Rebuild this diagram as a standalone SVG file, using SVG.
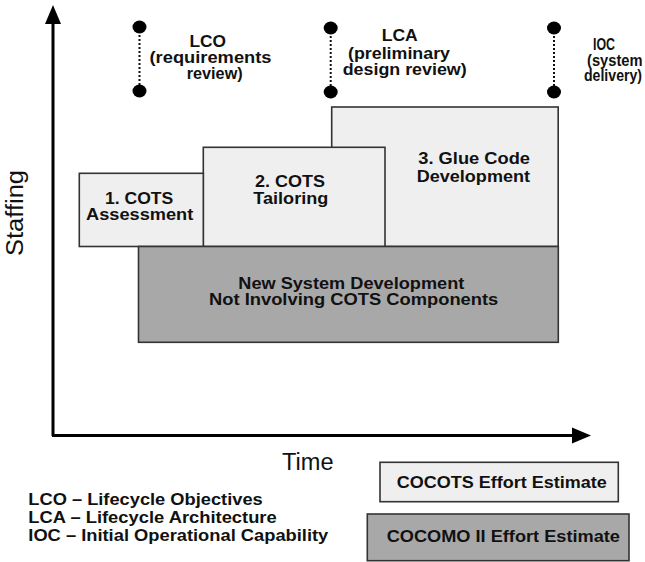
<svg xmlns="http://www.w3.org/2000/svg" width="645" height="562" viewBox="0 0 645 562">
  <style>
    .lbl { font-family: "Liberation Sans", Arial, sans-serif; font-weight: bold; font-size: 16.5px; fill: #111; }
    .axis-title { font-family: "Liberation Sans", Arial, sans-serif; font-size: 23px; fill: #111; }
    .light { fill: #efefef; stroke: #333; stroke-width: 1.6; }
    .dark { fill: #a8a8a8; stroke: #333; stroke-width: 1.6; }
    .axis { stroke: #000; stroke-width: 3; fill: none; }
    .stem { stroke: #111; stroke-width: 2; stroke-dasharray: 2 2; }
    .dot { fill: #000; }
  </style>
  <defs>
    <marker id="arrowHead" markerUnits="userSpaceOnUse" markerWidth="20" markerHeight="18" refX="2" refY="9" orient="auto">
      <polygon points="0,1 19,9 0,17" fill="#000"/>
    </marker>
  </defs>

  <rect width="645" height="562" fill="#fff"/>

  <!-- Axes -->
  <g id="connectors">
    <path class="axis" d="M53,436 L53,22" marker-end="url(#arrowHead)"/>
    <path class="axis" d="M52,435.5 L574,435.5" marker-end="url(#arrowHead)"/>
  </g>

  <text class="axis-title" transform="translate(23,213) rotate(-90)" text-anchor="middle" textLength="86" lengthAdjust="spacingAndGlyphs">Staffing</text>
  <text class="axis-title" x="282" y="469.5" textLength="51.5" lengthAdjust="spacingAndGlyphs">Time</text>

  <!-- Milestones -->
  <g id="milestone-lco">
    <line class="stem" x1="139.5" y1="27" x2="139.5" y2="91"/>
    <ellipse class="dot" cx="139.5" cy="27" rx="7" ry="6.5"/>
    <ellipse class="dot" cx="139.5" cy="91" rx="7" ry="6.5"/>
    <text class="lbl" x="189.5" y="47" textLength="36.5" lengthAdjust="spacingAndGlyphs">LCO</text>
    <text class="lbl" x="149.5" y="62.7" textLength="122" lengthAdjust="spacingAndGlyphs">(requirements</text>
    <text class="lbl" x="186.7" y="78.5" textLength="56" lengthAdjust="spacingAndGlyphs">review)</text>
  </g>

  <g id="milestone-lca">
    <line class="stem" x1="330.7" y1="28" x2="330.7" y2="92"/>
    <ellipse class="dot" cx="330.7" cy="28" rx="7" ry="6.5"/>
    <ellipse class="dot" cx="330.7" cy="92" rx="7" ry="6.5"/>
    <text class="lbl" x="381.7" y="40.7" textLength="36" lengthAdjust="spacingAndGlyphs">LCA</text>
    <text class="lbl" x="348" y="59.3" textLength="102" lengthAdjust="spacingAndGlyphs">(preliminary</text>
    <text class="lbl" x="342.7" y="75" textLength="124" lengthAdjust="spacingAndGlyphs">design review)</text>
  </g>

  <g id="milestone-ioc">
    <line class="stem" x1="554" y1="28" x2="554" y2="92"/>
    <ellipse class="dot" cx="554" cy="28" rx="7" ry="6.5"/>
    <ellipse class="dot" cx="554" cy="92" rx="7" ry="6.5"/>
    <text class="lbl" x="593" y="49.5" textLength="22" lengthAdjust="spacingAndGlyphs">IOC</text>
    <text class="lbl" x="587" y="65.5" textLength="55.5" lengthAdjust="spacingAndGlyphs">(system</text>
    <text class="lbl" x="584" y="81" textLength="58" lengthAdjust="spacingAndGlyphs">delivery)</text>
  </g>

  <!-- Effort blocks -->
  <g id="glue-code">
    <rect class="light" x="331.7" y="107" width="226.5" height="139.5"/>
    <text class="lbl" x="418.3" y="164" textLength="111.7" lengthAdjust="spacingAndGlyphs">3. Glue Code</text>
    <text class="lbl" x="416.7" y="181.5" textLength="113.3" lengthAdjust="spacingAndGlyphs">Development</text>
  </g>

  <g id="cots-tailoring">
    <rect class="light" x="203.3" y="147.3" width="181.7" height="99.2"/>
    <text class="lbl" x="255" y="186.7" textLength="70" lengthAdjust="spacingAndGlyphs">2. COTS</text>
    <text class="lbl" x="253.3" y="203.5" textLength="75" lengthAdjust="spacingAndGlyphs">Tailoring</text>
  </g>

  <g id="cots-assessment">
    <rect class="light" x="79.3" y="173.3" width="124" height="73.2"/>
    <text class="lbl" x="105" y="204" textLength="68.3" lengthAdjust="spacingAndGlyphs">1. COTS</text>
    <text class="lbl" x="86" y="220" textLength="107.3" lengthAdjust="spacingAndGlyphs">Assessment</text>
  </g>

  <g id="new-system">
    <rect class="dark" x="138.5" y="246.5" width="419.8" height="95.8"/>
    <text class="lbl" x="238.3" y="289.3" textLength="226" lengthAdjust="spacingAndGlyphs">New System Development</text>
    <text class="lbl" x="209" y="304.5" textLength="289.3" lengthAdjust="spacingAndGlyphs">Not Involving COTS Components</text>
  </g>

  <!-- Abbreviations -->
  <g id="abbreviations">
    <text class="lbl" x="28.3" y="505" textLength="234.4" lengthAdjust="spacingAndGlyphs">LCO – Lifecycle Objectives</text>
    <text class="lbl" x="28.3" y="523.3" textLength="248.4" lengthAdjust="spacingAndGlyphs">LCA – Lifecycle Architecture</text>
    <text class="lbl" x="28.3" y="541" textLength="300" lengthAdjust="spacingAndGlyphs">IOC – Initial Operational Capability</text>
  </g>

  <!-- Key -->
  <g id="key-cocots">
    <rect class="light" x="380" y="462.3" width="238.3" height="39.4"/>
    <text class="lbl" x="396.7" y="488.3" textLength="210" lengthAdjust="spacingAndGlyphs">COCOTS Effort Estimate</text>
  </g>

  <g id="key-cocomo">
    <rect class="dark" x="367.3" y="514" width="261.7" height="46.7"/>
    <text class="lbl" x="386.7" y="541.7" textLength="233.3" lengthAdjust="spacingAndGlyphs">COCOMO II Effort Estimate</text>
  </g>
</svg>
